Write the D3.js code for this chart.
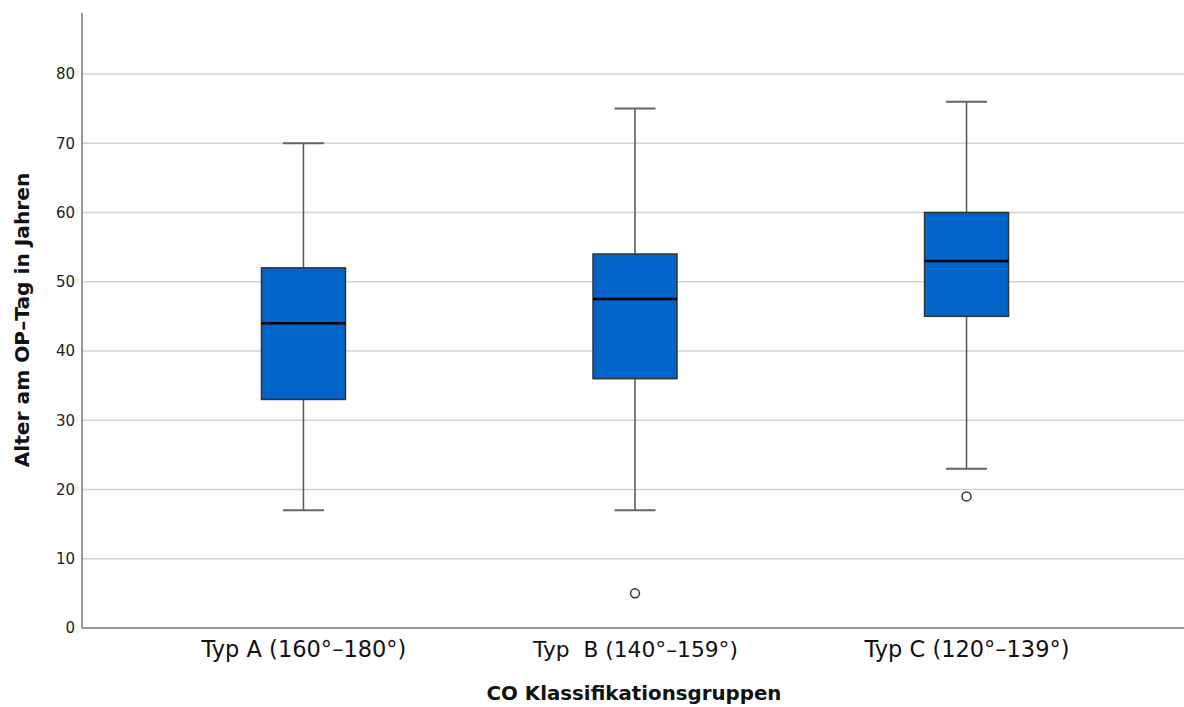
<!DOCTYPE html>
<html><head><meta charset="utf-8">
<script src="https://cdn.jsdelivr.net/npm/d3@7"></script>
<style>body{margin:0;background:#fff}svg{display:block}</style>
</head><body>
<svg id="c" width="1184" height="707"></svg>
<script>
const categories = ["Typ A (160°–180°)", "Typ  B (140°–159°)", "Typ C (120°–139°)"];
const whiskerLow = [17, 17, 23];
const q1 = [33, 36, 45];
const median = [44, 47.5, 53];
const q3 = [52, 54, 60];
const whiskerHigh = [70, 75, 76];
const outliers = [[], [5], [19]];
const yTicks = [0, 10, 20, 30, 40, 50, 60, 70, 80];

(function(){
const svg = d3.select("#c");
const pl = 82, pr = 1184, pt = 13, pb = 628;
const y = d3.scaleLinear().domain([0, 88.8]).range([pb, pt]);
const x = d3.scalePoint().domain(categories).range([pl + 2, pr + 2]).padding(0.662);
const boxW = 84, capW = 41;
const font = "'DejaVu Sans', 'Liberation Sans', sans-serif";

function fit(sel, target, base) {
  sel.each(function(){
    const n = this.getComputedTextLength();
    if (n > 0) d3.select(this).attr("font-size", base * target / n);
  });
}

// grid
svg.append("g").selectAll("line").data(yTicks.filter(d => d > 0)).join("line")
  .attr("x1", pl).attr("x2", pr).attr("y1", d => y(d)).attr("y2", d => y(d))
  .attr("stroke", "#d2d2d2").attr("stroke-width", 1.5);

// y axis
const ya = svg.append("g").attr("transform", `translate(${pl},0)`)
  .call(d3.axisLeft(y).tickValues(yTicks).tickSize(0).tickPadding(7));
ya.select(".domain").remove();
ya.selectAll("text").attr("font-family", font).attr("font-size", 15).attr("fill", "#222");
svg.append("line").attr("x1", pl).attr("x2", pl).attr("y1", pt).attr("y2", pb)
  .attr("stroke", "#777").attr("stroke-width", 1.5);

// x axis
const xa = svg.append("g").attr("transform", `translate(0,${pb})`)
  .call(d3.axisBottom(x).tickSize(0).tickPadding(0));
xa.select(".domain").remove();
xa.selectAll("text").attr("font-family", font).attr("font-size", 18).attr("fill", "#111")
  .attr("y", 29).attr("dy", 0).style("white-space", "pre");
fit(xa.selectAll("text"), 205, 18);
svg.append("line").attr("x1", pl).attr("x2", pr).attr("y1", pb).attr("y2", pb)
  .attr("stroke", "#777").attr("stroke-width", 1.5);

// boxes
const data = categories.map((c, i) => ({c, lo: whiskerLow[i], q1: q1[i], med: median[i], q3: q3[i], hi: whiskerHigh[i], out: outliers[i]}));
const g = svg.append("g").selectAll("g").data(data).join("g");
g.append("line").attr("x1", d => x(d.c)).attr("x2", d => x(d.c))
  .attr("y1", d => y(d.hi)).attr("y2", d => y(d.q3)).attr("stroke", "#555").attr("stroke-width", 1.5);
g.append("line").attr("x1", d => x(d.c)).attr("x2", d => x(d.c))
  .attr("y1", d => y(d.q1)).attr("y2", d => y(d.lo)).attr("stroke", "#555").attr("stroke-width", 1.5);
g.append("line").attr("x1", d => x(d.c) - capW/2).attr("x2", d => x(d.c) + capW/2)
  .attr("y1", d => y(d.hi)).attr("y2", d => y(d.hi)).attr("stroke", "#666").attr("stroke-width", 2);
g.append("line").attr("x1", d => x(d.c) - capW/2).attr("x2", d => x(d.c) + capW/2)
  .attr("y1", d => y(d.lo)).attr("y2", d => y(d.lo)).attr("stroke", "#666").attr("stroke-width", 2);
g.append("rect").attr("x", d => x(d.c) - boxW/2).attr("width", boxW)
  .attr("y", d => y(d.q3)).attr("height", d => y(d.q1) - y(d.q3))
  .attr("fill", "#0064C8").attr("stroke", "#333").attr("stroke-width", 1.5);
g.append("line").attr("x1", d => x(d.c) - boxW/2).attr("x2", d => x(d.c) + boxW/2)
  .attr("y1", d => y(d.med)).attr("y2", d => y(d.med)).attr("stroke", "#000").attr("stroke-width", 2.5);
g.selectAll("circle").data(d => d.out.map(v => ({c: d.c, v}))).join("circle")
  .attr("cx", d => x(d.c)).attr("cy", d => y(d.v)).attr("r", 4.5)
  .attr("fill", "#fff").attr("stroke", "#333").attr("stroke-width", 1.5);

// titles
const xt = svg.append("text").attr("x", 634).attr("y", 700).attr("text-anchor", "middle")
  .attr("font-family", font).attr("font-size", 18).attr("font-weight", "bold").attr("fill", "#111")
  .text("CO Klassifikationsgruppen");
fit(xt, 295, 18);
const yt = svg.append("text").attr("transform", "translate(29,320) rotate(-90)").attr("text-anchor", "middle")
  .attr("font-family", font).attr("font-size", 18).attr("font-weight", "bold").attr("fill", "#111")
  .text("Alter am OP–Tag in Jahren");
fit(yt, 295, 18);
})();
</script>
</body></html>
